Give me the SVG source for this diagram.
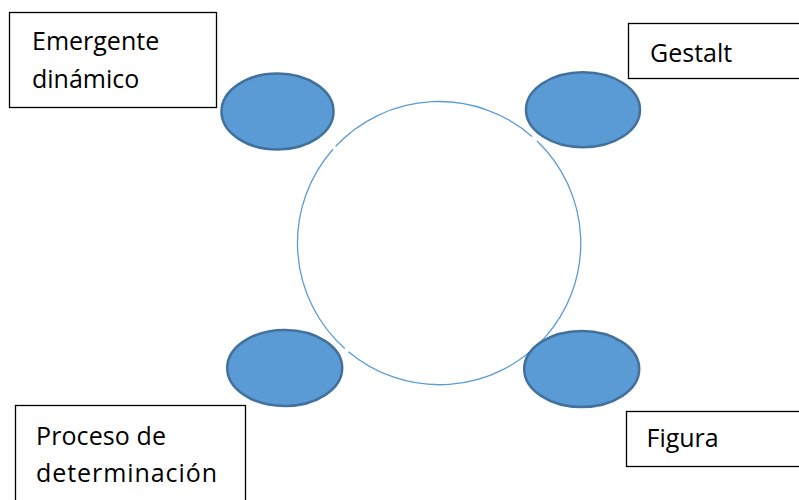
<svg xmlns="http://www.w3.org/2000/svg" width="799" height="500" viewBox="0 0 799 500">
  <style>
    .box { fill: #ffffff; stroke: #000000; stroke-width: 1.3; }
    .label { font-family: "Open Sans", "Liberation Sans", sans-serif; font-size: 25px; fill: #000000; }
    .dot { fill: #5B9BD5; stroke: #41719C; stroke-width: 2.5; }
    .ring { fill: none; stroke: #5B9BD5; stroke-width: 1.3; }
  </style>
  <rect width="799" height="500" fill="#ffffff"/>

  <!-- central ring, drawn as three arcs with small breaks -->
  <g id="connectors">
    <path class="ring" d="M335.7,146.3 A141.5,141.5 0 0 1 532.0,136.4"/>
    <path class="ring" d="M537.1,141.0 A141.5,141.5 0 0 1 348.4,351.7"/>
    <path class="ring" d="M344.7,348.5 A141.5,141.5 0 0 1 333.0,149.2"/>
  </g>

  <g id="emergente">
    <rect class="box" x="9.5" y="12.5" width="207" height="95"/>
    <text class="label" x="32" y="50">Emergente</text>
    <text class="label" x="32" y="88">dinámico</text>
    <ellipse class="dot" cx="277.5" cy="111.5" rx="56" ry="38"/>
  </g>

  <g id="gestalt">
    <rect class="box" x="628.5" y="23.5" width="180" height="55"/>
    <text class="label" x="650" y="61.5">Gestalt</text>
    <ellipse class="dot" cx="583" cy="109.7" rx="57" ry="37.5"/>
  </g>

  <g id="proceso">
    <rect class="box" x="15.5" y="405.5" width="230" height="110"/>
    <text class="label" x="36" y="445" textLength="130" lengthAdjust="spacing">Proceso de</text>
    <text class="label" x="36" y="481.5" textLength="181" lengthAdjust="spacing">determinación</text>
    <ellipse class="dot" cx="284.7" cy="368" rx="57.5" ry="38"/>
  </g>

  <g id="figura">
    <rect class="box" x="626.5" y="411.5" width="180" height="55"/>
    <text class="label" x="646.5" y="446.5">Figura</text>
    <ellipse class="dot" cx="581.7" cy="369" rx="57.5" ry="38"/>
  </g>
</svg>
